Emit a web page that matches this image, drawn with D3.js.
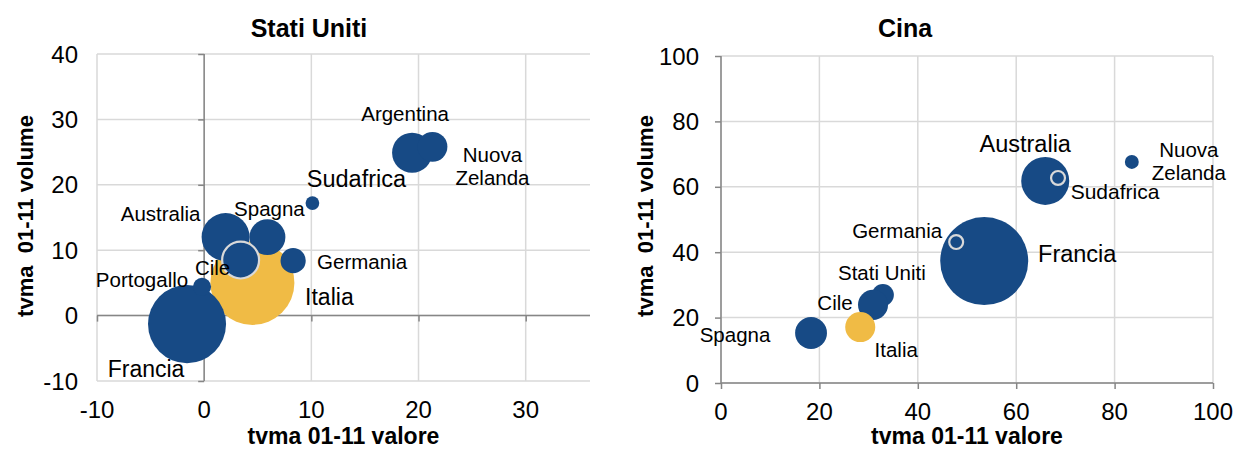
<!DOCTYPE html>
<html>
<head>
<meta charset="utf-8">
<script src="https://cdn.jsdelivr.net/npm/d3@7"></script>
<style>
  body { margin: 0; background: #fff; }
  svg { display: block; font-family: "Liberation Sans", Arial, sans-serif; }
</style>
</head>
<body>
<svg id="chart" width="1234" height="450"></svg>
<script>
// ---- Stati Uniti: tvma 01-11 of value (x) and volume (y), bubble = market weight
const usPaesi  = ["Italia", "Francia", "Portogallo", "Australia", "Spagna", "Germania", "Sudafrica", "Argentina", "Nuova Zelanda", "Cile"];
const usValore = [4.5, -1.6, -0.2, 2.0, 5.9, 8.3, 10.1, 19.4, 21.3, 3.4];
const usVolume = [5.0, -1.3, 4.4, 12.0, 12.0, 8.4, 17.2, 24.9, 25.8, 8.5];
const usPeso   = [30, 25.9, 1.4, 9.8, 5.5, 2.7, 0.8, 6.8, 3.8, 5.8];
const usXTicks = [-10, 0, 10, 20, 30];
const usYTicks = [-10, 0, 10, 20, 30, 40];

// ---- Cina
const cnPaesi  = ["Francia", "Australia", "Spagna", "Stati Uniti", "Cile", "Nuova Zelanda", "Italia", "Germania", "Sudafrica"];
const cnValore = [53.5, 65.9, 18.3, 32.9, 30.9, 83.5, 28.3, 47.8, 68.5];
const cnVolume = [37.3, 61.8, 15.3, 26.9, 23.9, 67.6, 17.1, 43.1, 62.7];
const cnPeso   = [48, 14.3, 6.3, 3.0, 5.6, 1.2, 5.6, 1.2, 1.2];
const cnXTicks = [0, 20, 40, 60, 80, 100];
const cnYTicks = [0, 20, 40, 60, 80, 100];

const titoloX = "tvma 01-11 valore";
const titoloY = "tvma\u00a0 01-11 volume";

// colours and per-country styling
const BLU = "#174a85", ORO = "#f0bb45", GRIGLIA = "#d9d9d9", ASSE = "#868686";
const evidenza = { "Italia": ORO };
const anello = { us: ["Cile"], cn: ["Germania", "Sudafrica"] };

// label placement relative to the bubble centre (px) and font size
const etichette = {
  us: {
    "Argentina":     { dx: -7,  dy: -32, fs: 20.5 },
    "Nuova Zelanda": { dx: 60,  dy: 15,  fs: 20.5, a_capo: true },
    "Sudafrica":     { dx: 44,  dy: -16, fs: 23.5 },
    "Germania":      { dx: 69,  dy: 8,   fs: 20.5 },
    "Spagna":        { dx: 2,   dy: -21, fs: 20.5 },
    "Australia":     { dx: -65, dy: -16, fs: 20.5 },
    "Cile":          { dx: -28, dy: 15,  fs: 20.5 },
    "Portogallo":    { dx: -60, dy: 0,   fs: 20.5 },
    "Italia":        { dx: 77,  dy: 22,  fs: 23 },
    "Francia":       { dx: -41, dy: 53,  fs: 23 }
  },
  cn: {
    "Australia":     { dx: -20, dy: -29, fs: 23.5 },
    "Nuova Zelanda": { dx: 57,  dy: -5,  fs: 20.5, a_capo: true },
    "Sudafrica":     { dx: 57,  dy: 21,  fs: 21 },
    "Francia":       { dx: 93,  dy: 1,   fs: 23.5 },
    "Germania":      { dx: -59, dy: -4,  fs: 20.5 },
    "Stati Uniti":   { dx: -1,  dy: -15, fs: 20.5 },
    "Cile":          { dx: -38, dy: 5,   fs: 20.5 },
    "Spagna":        { dx: -76, dy: 9,   fs: 20.5 },
    "Italia":        { dx: 36,  dy: 30,  fs: 20.5 }
  }
};

const svg = d3.select("#chart");

function pannello(cfg) {
  const g = svg.append("g");
  const x = d3.scaleLinear().domain(cfg.xDom).range([cfg.left, cfg.right]);
  const y = d3.scaleLinear().domain(cfg.yDom).range([cfg.bottom, cfg.top]);
  const r = d3.scaleSqrt().domain([0, d3.max(cfg.peso)]).range([0, cfg.rMax]);

  // gridlines
  g.append("g").selectAll("line").data(cfg.xTicks).join("line")
    .attr("x1", d => x(d)).attr("x2", d => x(d))
    .attr("y1", cfg.top).attr("y2", cfg.bottom)
    .attr("stroke", GRIGLIA).attr("stroke-width", 1.5);
  g.append("g").selectAll("line").data(cfg.yTicks).join("line")
    .attr("x1", cfg.left).attr("x2", cfg.right)
    .attr("y1", d => y(d)).attr("y2", d => y(d))
    .attr("stroke", GRIGLIA).attr("stroke-width", 1.5);

  // axes crossing at zero
  const ax = g.append("g").attr("transform", `translate(0,${y(0)})`)
    .call(d3.axisBottom(x).tickValues(cfg.xTicks).tickSize(6).tickFormat(""));
  const ay = g.append("g").attr("transform", `translate(${x(0)},0)`)
    .call(d3.axisLeft(y).tickValues(cfg.yTicks).tickSize(6).tickFormat(""));
  [ax, ay].forEach(a => {
    a.select(".domain").attr("stroke", ASSE).attr("stroke-width", 1.5);
    a.selectAll(".tick line").attr("stroke", ASSE).attr("stroke-width", 1.5);
  });
  ay.select(".domain").attr("d", `M0,${cfg.top}V${cfg.bottom}`);
  ax.select(".domain").attr("d", `M${cfg.left},0H${cfg.right}`);

  // tick labels sit at the outer edge of the plot area
  g.append("g").selectAll("text").data(cfg.xTicks).join("text")
    .attr("x", d => x(d)).attr("y", cfg.bottom + 37)
    .attr("text-anchor", "middle").attr("font-size", 24).attr("fill", "#000")
    .text(d => d);
  g.append("g").selectAll("text").data(cfg.yTicks).join("text")
    .attr("x", cfg.left + cfg.yTickDx).attr("y", d => y(d) + 8.5)
    .attr("text-anchor", "end").attr("font-size", 24).attr("fill", "#000")
    .text(d => d);

  // bubbles
  const dati = cfg.paesi.map((p, i) => ({ p, vx: cfg.valore[i], vy: cfg.volume[i], s: cfg.peso[i] }));
  g.append("g").selectAll("circle").data(dati).join("circle")
    .attr("cx", d => x(d.vx)).attr("cy", d => y(d.vy)).attr("r", d => r(d.s))
    .attr("fill", d => evidenza[d.p] || BLU)
    .attr("stroke", d => cfg.anello.includes(d.p) ? GRIGLIA : "none")
    .attr("stroke-width", 2.2);

  // data labels
  const lab = g.append("g").selectAll("text").data(dati).join("text")
    .attr("text-anchor", "middle").attr("fill", "#000")
    .attr("font-size", d => cfg.etichette[d.p].fs)
    .attr("x", d => x(d.vx) + cfg.etichette[d.p].dx)
    .attr("y", d => y(d.vy) + cfg.etichette[d.p].dy);
  lab.each(function (d) {
    const e = cfg.etichette[d.p];
    const righe = e.a_capo ? d.p.split(" ") : [d.p];
    d3.select(this).selectAll("tspan").data(righe).join("tspan")
      .attr("x", x(d.vx) + e.dx).attr("dy", (t, i) => i ? 23 : 0).text(t => t);
  });

  // titles
  g.append("text").attr("x", cfg.titoloX).attr("y", 37).attr("text-anchor", "middle")
    .attr("font-size", 25).attr("font-weight", "bold").text(cfg.titolo);
  g.append("text").attr("x", (cfg.left + cfg.right) / 2).attr("y", 444).attr("text-anchor", "middle")
    .attr("font-size", 23).attr("font-weight", "bold").text(titoloX);
  g.append("text").attr("transform", `translate(${cfg.yLabX},216) rotate(-90)`)
    .attr("text-anchor", "middle").attr("font-size", 22).attr("font-weight", "bold")
    .text(titoloY);
}

pannello({
  titolo: "Stati Uniti", titoloX: 309, yLabX: 33, yTickDx: -19,
  left: 97, right: 590, top: 54, bottom: 381,
  xDom: [-10, 36], yDom: [-10, 40], rMax: 42,
  xTicks: usXTicks, yTicks: usYTicks,
  paesi: usPaesi, valore: usValore, volume: usVolume, peso: usPeso,
  anello: anello.us, etichette: etichette.us
});

pannello({
  titolo: "Cina", titoloX: 905, yLabX: 653, yTickDx: -22,
  left: 721, right: 1213, top: 56, bottom: 383,
  xDom: [0, 100], yDom: [0, 100], rMax: 44,
  xTicks: cnXTicks, yTicks: cnYTicks,
  paesi: cnPaesi, valore: cnValore, volume: cnVolume, peso: cnPeso,
  anello: anello.cn, etichette: etichette.cn
});
</script>
</body>
</html>
